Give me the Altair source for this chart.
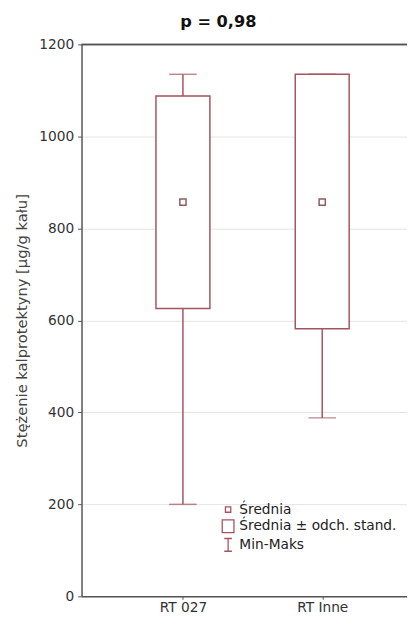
import altair as alt
import pandas as pd

# Data
categories = ["RT 027", "RT Inne"]
means = [857, 857]
sd_lows = [626, 582]
sd_highs = [1088, 1135]
mins = [200, 388]
maxs = [1135, 1135]
legend_labels = ["Średnia", "Średnia ± odch. stand.", "Min-Maks"]
y_ticks = [0, 200, 400, 600, 800, 1000, 1200]

df = pd.DataFrame({
    "cat": categories,
    "mean": means,
    "lo": sd_lows,
    "hi": sd_highs,
    "min": mins,
    "max": maxs,
})
leg_df = pd.DataFrame({"label": legend_labels})

COLOR = "#a3545e"
MEAN_COLOR = "#8e5a60"
AXIS_COLOR = "#555555"
FONT = "DejaVu Sans"

legend_paths = [
    "M-0.42,-0.42H0.42V0.42H-0.42Z",
    "M-0.92,-1H0.92V1H-0.92Z",
    "M-0.6,-1H0.6M0,-1V1M-0.6,1H0.6",
]

x_enc = alt.X(
    "cat:N",
    sort=categories,
    title=None,
    scale=alt.Scale(type="point", padding=0.70, align=0.52),
    axis=alt.Axis(
        labelAngle=0, domainColor=AXIS_COLOR, domainWidth=1.5,
        tickColor=AXIS_COLOR, tickSize=3, labelFontSize=14,
        labelColor="#333333", labelFont=FONT, labelPadding=1, grid=False,
    ),
)


def y_enc(field):
    return alt.Y(
        field,
        scale=alt.Scale(domain=[0, 1200], nice=False),
        title="Stężenie kalprotektyny [µg/g kału]",
        axis=alt.Axis(
            values=y_ticks, format="d", domainColor=AXIS_COLOR, domainWidth=1.5,
            tickColor=AXIS_COLOR, tickSize=4, labelFontSize=14,
            labelColor="#333333", labelFont=FONT, labelPadding=4,
            titleFont=FONT, titleFontSize=15, titleFontWeight="normal",
            titleColor="#444444", titlePadding=10,
            grid=True, gridColor="#e3e3e3", gridWidth=1,
        ),
    )


base = alt.Chart(df).encode(x=x_enc)

top_line = alt.Chart(df).mark_rule(color=AXIS_COLOR, strokeWidth=1.5).encode(
    y=alt.datum(1200)
)

whisker = base.mark_rule(color=COLOR, strokeWidth=1.5).encode(
    y=y_enc("min:Q"), y2="max:Q"
)
cap_min = base.mark_tick(color=COLOR, size=28, thickness=1.5, orient="horizontal").encode(
    y=y_enc("min:Q")
)
cap_max = base.mark_tick(color=COLOR, size=28, thickness=1.5, orient="horizontal").encode(
    y=y_enc("max:Q")
)
box = base.mark_bar(size=55, fill="white", stroke=COLOR, strokeWidth=1.5).encode(
    y=y_enc("lo:Q"), y2="hi:Q"
)
mean_pt = base.mark_square(size=40, filled=False, color=MEAN_COLOR, strokeWidth=1.5, opacity=1).encode(
    y=y_enc("mean:Q")
)

legend_layer = alt.Chart(leg_df).mark_point(filled=False, opacity=0).encode(
    shape=alt.Shape(
        "label:N",
        sort=legend_labels,
        scale=alt.Scale(domain=legend_labels, range=legend_paths),
        legend=alt.Legend(
            title=None, orient="none", legendX=142, legendY=467,
            symbolSize=169, symbolStrokeColor=COLOR, symbolStrokeWidth=1.3,
            symbolFillColor="transparent", symbolOpacity=1,
            labelFontSize=14, labelFont=FONT, labelColor="#222222",
            labelLimit=400, rowPadding=0, labelOffset=4,
        ),
    )
)

chart = alt.layer(
    whisker, cap_min, cap_max, box, mean_pt, top_line, legend_layer
).properties(
    width=407,
    height=612,
    title=alt.TitleParams(
        "p = 0,98", fontSize=16.5, fontWeight="bold", font=FONT,
        anchor="middle", frame="bounds", offset=7, color="#111111", dx=3,
    ),
    autosize=alt.AutoSizeParams(type="fit", contains="padding"),
    padding={"left": 6, "top": 0, "right": -10, "bottom": 0},
).configure_view(stroke=None)

chart.save("out.html", embed_options={"renderer": "svg", "actions": False})
